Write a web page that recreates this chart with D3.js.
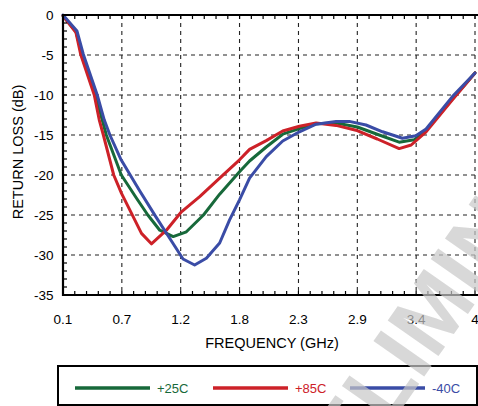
<!DOCTYPE html>
<html>
<head>
<meta charset="utf-8">
<script src="https://cdn.jsdelivr.net/npm/d3@7/dist/d3.min.js"></script>
<style>
    body { margin: 0; background: #fff; }
    text { font-family: "Liberation Sans", Arial, Helvetica, sans-serif; }
</style>
</head>
<body>
<div id="return_loss_plot"></div>
<script>
// values: frequency (GHz) and return loss (dB) per temperature
const freq_25 = [0.1, 0.223, 0.28, 0.41, 0.471, 0.51, 0.581, 0.652, 0.796, 0.903, 1.016, 1.143, 1.268, 1.43, 1.583, 1.771, 1.866, 2.024, 2.18, 2.338, 2.496, 2.685, 2.886, 3.093, 3.282, 3.424, 3.537, 3.786, 4.0]
const loss_25 = [-0.1, -2.1, -4.9, -10, -13.1, -15, -17.5, -20, -22.9, -25, -26.9, -27.7, -27.1, -25, -22.4, -19.6, -18.25, -16.5, -14.9, -14.2, -13.6, -13.5, -14.0, -15, -15.9, -15.6, -14.4, -10.5, -7.25]

const freq_85 = [0.1, 0.223, 0.267, 0.396, 0.443, 0.482, 0.58, 0.654, 0.843, 0.937, 1.079, 1.221, 1.394, 1.583, 1.771, 1.866, 2.024, 2.18, 2.338, 2.496, 2.685, 2.873, 3.075, 3.282, 3.396, 3.537, 3.786, 4.0]
const loss_85 = [-0.1, -2.2, -4.9, -10, -13.1, -15, -20, -22.3, -27.3, -28.6, -26.9, -24.6, -22.7, -20.4, -18.1, -16.8, -15.7, -14.5, -13.9, -13.5, -13.8, -14.4, -15.5, -16.7, -16.25, -14.6, -10.6, -7.25]

const freq_m40 = [0.1, 0.232, 0.292, 0.424, 0.49, 0.544, 0.65, 0.827, 0.978, 1.11, 1.236, 1.346, 1.457, 1.583, 1.677, 1.771, 1.866, 2.024, 2.18, 2.338, 2.496, 2.685, 2.81, 2.968, 3.125, 3.313, 3.44, 3.537, 3.786, 4.0]
const loss_m40 = [0, -2.0, -4.9, -10, -13.1, -15, -18.1, -22, -25.2, -27.9, -30.5, -31.25, -30.4, -28.5, -25.6, -23.1, -20.4, -17.7, -15.75, -14.6, -13.65, -13.3, -13.3, -13.75, -14.6, -15.4, -15.1, -14.25, -10.2, -7.25]

const series_names = ["+25C", "+85C", "-40C"]
const series_colors = ["#17693a", "#cd2128", "#3a4ca6"]

const x_tick_values = [0.1, 0.657, 1.214, 1.771, 2.329, 2.886, 3.443, 4.0]
const x_tick_labels = ["0.1", "0.7", "1.2", "1.8", "2.3", "2.9", "3.4", "4"]
const y_tick_values = [0, -5, -10, -15, -20, -25, -30, -35]

function return_loss_plot(plot_id) {
    const margin = {top: 15, right: 3, bottom: 111, left: 63}
    const plot_w = 412
    const plot_h = 280

    const root = d3.select(plot_id).append("svg")
        .attr("width", 478)
        .attr("height", 406)
    const svg = root.append("g")
        .attr("transform", "translate(" + margin.left + "," + margin.top + ")");

    const x = d3.scaleLinear().domain([0.1, 4]).range([0, plot_w])
    const y = d3.scaleLinear().domain([-35, 0]).range([plot_h, 0])

    // dashed grid
    svg.append("g")
        .selectAll("line")
        .data(y_tick_values.slice(1, -1))
        .join("line")
        .attr("x1", 0).attr("x2", plot_w + 5)
        .attr("y1", d => y(d)).attr("y2", d => y(d))
        .attr("stroke", "#222").attr("stroke-width", 1.1)
        .attr("stroke-dasharray", "4,4");
    svg.append("g")
        .selectAll("line")
        .data(x_tick_values.slice(1))
        .join("line")
        .attr("x1", d => x(d)).attr("x2", d => x(d))
        .attr("y1", 0).attr("y2", plot_h)
        .attr("stroke", "#222").attr("stroke-width", 1.1)
        .attr("stroke-dasharray", "4,4");

    // curves
    const all_series = [
        {freq: freq_25, loss: loss_25},
        {freq: freq_85, loss: loss_85},
        {freq: freq_m40, loss: loss_m40}
    ]
    const line = d3.line()
        .x(d => x(d[0]))
        .y(d => y(d[1]))

    all_series.forEach((s, k) => {
        svg.append("path")
            .attr("fill", "none")
            .attr("stroke", series_colors[k])
            .attr("stroke-width", 3)
            .attr("stroke-linejoin", "round")
            .attr("stroke-linecap", "round")
            .attr("d", line(d3.zip(s.freq, s.loss)));
    })

    // frame (right edge falls just outside the picture)
    svg.append("path")
        .attr("fill", "none")
        .attr("stroke", "black")
        .attr("stroke-width", 2.2)
        .attr("d", `M${plot_w + 8},0H0V${plot_h}H${plot_w + 8}`);

    // minor ticks pointing inward
    const x_minor = d3.range(36).map(i => 0.1 + i * 3.9 / 35)
    const y_minor = d3.range(-35, 1)
    svg.append("g").selectAll("line")
        .data(x_minor)
        .join("line")
        .attr("x1", d => x(d)).attr("x2", d => x(d))
        .attr("y1", plot_h).attr("y2", plot_h - 4)
        .attr("stroke", "black").attr("stroke-width", 1.2);
    svg.append("g").selectAll("line")
        .data(x_minor)
        .join("line")
        .attr("x1", d => x(d)).attr("x2", d => x(d))
        .attr("y1", 0).attr("y2", 4)
        .attr("stroke", "black").attr("stroke-width", 1.2);
    svg.append("g").selectAll("line")
        .data(y_minor)
        .join("line")
        .attr("x1", 0).attr("x2", 4)
        .attr("y1", d => y(d)).attr("y2", d => y(d))
        .attr("stroke", "black").attr("stroke-width", 1.2);

    // tick labels
    svg.append("g").selectAll("text")
        .data(x_tick_values)
        .join("text")
        .attr("x", d => x(d))
        .attr("y", plot_h + 28.5)
        .attr("text-anchor", "middle")
        .style("font-size", "13.5px")
        .text((d, i) => x_tick_labels[i]);
    svg.append("g").selectAll("text")
        .data(y_tick_values)
        .join("text")
        .attr("x", -9.5)
        .attr("y", d => y(d))
        .attr("dy", "0.36em")
        .attr("text-anchor", "end")
        .style("font-size", "13.5px")
        .text(d => d);

    // axis titles
    svg.append("text")
        .attr("x", plot_w / 2 + 3)
        .attr("y", plot_h + 52.5)
        .attr("text-anchor", "middle")
        .style("font-size", "14.5px")
        .text("FREQUENCY (GHz)");
    svg.append("text")
        .attr("transform", "rotate(-90)")
        .attr("x", -(plot_h / 2) + 3)
        .attr("y", -40)
        .attr("text-anchor", "middle")
        .style("font-size", "14.5px")
        .text("RETURN LOSS (dB)");

    // legend box
    const legend = root.append("g")
    legend.append("rect")
        .attr("x", 58).attr("y", 366)
        .attr("width", 419).attr("height", 39)
        .attr("fill", "none")
        .attr("stroke", "black")
        .attr("stroke-width", 2);
    const legend_x = [75, 213, 350]
    series_names.forEach((name, k) => {
        legend.append("line")
            .attr("x1", legend_x[k]).attr("x2", legend_x[k] + 75)
            .attr("y1", 388).attr("y2", 388)
            .attr("stroke", series_colors[k])
            .attr("stroke-width", 3.4);
        legend.append("text")
            .attr("x", legend_x[k] + 82)
            .attr("y", 392.5)
            .attr("fill", series_colors[k])
            .style("font-size", "13px")
            .text(name);
    })

    // grey PRELIMINARY stamp over the lower right corner
    root.append("text")
        .attr("transform", "translate(283,578) rotate(-55)")
        .attr("fill", "#c8c8c8")
        .attr("fill-opacity", 0.7)
        .style("font-size", "90px")
        .style("font-weight", "bold")
        .text("PRELIMINARY");
}

return_loss_plot("#return_loss_plot")
</script>
</body>
</html>
